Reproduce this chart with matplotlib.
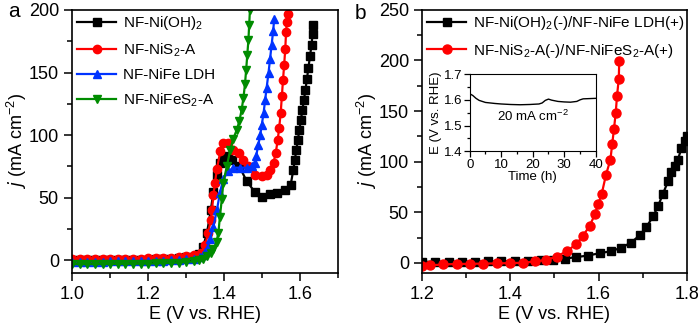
import numpy as np
import matplotlib
matplotlib.use("Agg")
import matplotlib.pyplot as plt
from matplotlib.ticker import MultipleLocator

plt.rcParams['font.family'] = ['Liberation Sans', 'DejaVu Sans']
plt.rcParams['mathtext.default'] = 'regular'

# ---- panel a data (E in V vs RHE, j in mA cm-2) ----
flat_e = [1.00, 1.02, 1.04, 1.06, 1.08, 1.10, 1.12, 1.14, 1.16, 1.18,
          1.20, 1.22, 1.24, 1.26, 1.28, 1.30, 1.32]

ohh_e = flat_e + [1.335, 1.345, 1.355, 1.365, 1.372, 1.38, 1.39, 1.40, 1.41,
                  1.42, 1.44, 1.46, 1.48, 1.50, 1.52, 1.54, 1.56, 1.575,
                  1.582, 1.586, 1.590, 1.594, 1.598, 1.602, 1.606, 1.610,
                  1.614, 1.618, 1.622, 1.626, 1.630, 1.633, 1.635]
ohh_j = [0.0, 0.0, 0.1, 0.1, 0.2, 0.2, 0.3, 0.4, 0.5, 0.6, 0.7, 0.9, 1.1,
         1.4, 1.8, 2.4, 3.0] + [5, 11, 22, 40, 55, 68, 78, 82, 83,
                                80, 75, 63, 55, 51, 53, 54, 56, 60,
                                72, 80, 88, 96, 104, 112, 120, 128,
                                136, 145, 154, 163, 172, 181, 188]

nis_e = flat_e + [1.340, 1.350, 1.358, 1.365, 1.368, 1.372, 1.376, 1.381,
                  1.390, 1.398, 1.411, 1.424, 1.438, 1.451, 1.464, 1.482,
                  1.499, 1.512, 1.521, 1.530, 1.536, 1.541, 1.545, 1.549,
                  1.552, 1.555, 1.558, 1.561, 1.563, 1.565, 1.567]
nis_j = [1.0, 1.0, 1.0, 1.1, 1.1, 1.2, 1.2, 1.3, 1.4, 1.5, 1.6, 1.8, 2.0,
         2.3, 2.7, 3.2, 4.0] + [6, 12, 22, 32, 40, 52, 62, 73,
                                87, 94, 94, 88, 86, 80, 75, 68.5,
                                67, 68.5, 72.5, 78, 86, 96, 106, 118,
                                131, 144, 156, 169, 182, 190, 197]

ldh_e = flat_e + [1.336, 1.344, 1.350, 1.357, 1.363, 1.372, 1.381, 1.389,
                  1.398, 1.411, 1.424, 1.442, 1.460, 1.473, 1.480, 1.484,
                  1.490, 1.495, 1.499, 1.504, 1.508, 1.512, 1.517, 1.521,
                  1.525, 1.529, 1.532]
ldh_j = [-1.0, -1.0, -1.0, -0.9, -0.9, -0.8, -0.8, -0.7, -0.6, -0.5, -0.4,
         -0.3, -0.1, 0.1, 0.4, 0.8, 1.3] + [2.5, 4.5, 7, 11, 17, 27, 40, 54,
                                            65, 71, 74, 74, 74, 75, 78, 83,
                                            92, 100, 108, 118, 128, 138, 150,
                                            161, 172, 183, 193]

fes_e = flat_e + [1.335, 1.345, 1.355, 1.365, 1.372, 1.380, 1.385, 1.389,
                  1.394, 1.398, 1.407, 1.416, 1.424, 1.433, 1.440, 1.446,
                  1.451, 1.455, 1.458, 1.461, 1.464, 1.466, 1.468]
fes_j = [-3.0, -3.0, -3.0, -3.0, -2.9, -2.9, -2.8, -2.8, -2.7, -2.6, -2.5,
         -2.4, -2.2, -2.0, -1.7, -1.3, -0.8] + [0.2, 1.5, 3.5, 6, 9, 15, 22,
                                                35, 49, 62, 75, 88, 97, 104,
                                                111, 120, 130, 141, 152, 164,
                                                176, 188, 200]

# ---- panel b data ----
cell1_e = [1.200, 1.230, 1.260, 1.290, 1.320, 1.350, 1.380, 1.410, 1.440,
           1.470, 1.497, 1.524, 1.550, 1.576, 1.603, 1.629, 1.652, 1.674,
           1.693, 1.708, 1.724, 1.735, 1.746, 1.758, 1.765, 1.774, 1.780,
           1.788, 1.796, 1.800]
cell1_j = [1.0, 1.0, 1.0, 1.1, 1.2, 1.3, 1.5, 1.8, 2.1, 2.6, 3.2, 4.2, 5.6,
           7.2, 9.5, 11.5, 15, 20, 27, 35, 46, 56, 68, 81, 90, 96, 102,
           113, 120, 125]

cell2_e = [1.200, 1.218, 1.248, 1.279, 1.309, 1.339, 1.369, 1.399, 1.429,
           1.456, 1.482, 1.505, 1.528, 1.550, 1.565, 1.580, 1.592, 1.599,
           1.607, 1.617, 1.627, 1.631, 1.635, 1.639, 1.642, 1.646, 1.647]
cell2_j = [-3.0, -2.6, -1.6, -1.2, -1.0, -0.8, -0.6, -0.3, 0.0,
           1.3, 2.9, 6.2, 11.4, 18.6, 26.8, 36.6, 48, 57.8,
           67.6, 87, 102, 117, 132, 148, 165, 182, 199]

# ---- inset: stability at 20 mA cm-2 ----
time_h = [0, 1, 2, 3, 5, 8, 10, 13, 16, 19, 22, 23, 24, 25, 26, 28, 30,
          32, 34, 35, 36, 38, 40]
e_stab = [1.624, 1.617, 1.606, 1.598, 1.590, 1.586, 1.584, 1.582, 1.581,
          1.582, 1.584, 1.588, 1.598, 1.603, 1.599, 1.594, 1.592, 1.591,
          1.594, 1.600, 1.604, 1.605, 1.606]

fig = plt.figure(figsize=(7, 3.3), dpi=100)
ax1 = fig.add_axes([0.103, 0.173, 0.380, 0.797])
ax2 = fig.add_axes([0.603, 0.173, 0.378, 0.797])

lw = 1.6
ax1.plot(ohh_e, ohh_j, '-s', color='black', lw=lw, ms=5.5, label='NF-Ni(OH)$_2$')
ax1.plot(nis_e, nis_j, '-o', color='red', lw=lw, ms=6, label='NF-NiS$_2$-A')
ax1.plot(ldh_e, ldh_j, '-^', color='#0033ff', lw=lw, ms=6, label='NF-NiFe LDH')
ax1.plot(fes_e, fes_j, '-v', color='#008c00', lw=lw, ms=6, label='NF-NiFeS$_2$-A')

ax2.plot(cell1_e, cell1_j, '-s', color='black', lw=lw, ms=5.5,
         label='NF-Ni(OH)$_2$(-)/NF-NiFe LDH(+)')
ax2.plot(cell2_e, cell2_j, '-o', color='red', lw=lw, ms=6.5,
         label='NF-NiS$_2$-A(-)/NF-NiFeS$_2$-A(+)')

ax1.set_xlim(1.0, 1.7)
ax1.set_ylim(-10, 200)
ax1.xaxis.set_major_locator(MultipleLocator(0.2))
ax1.xaxis.set_minor_locator(MultipleLocator(0.1))
ax1.yaxis.set_major_locator(MultipleLocator(50))
ax1.yaxis.set_minor_locator(MultipleLocator(25))

ax2.set_xlim(1.2, 1.8)
ax2.set_ylim(-10, 250)
ax2.xaxis.set_major_locator(MultipleLocator(0.2))
ax2.xaxis.set_minor_locator(MultipleLocator(0.1))
ax2.yaxis.set_major_locator(MultipleLocator(50))
ax2.yaxis.set_minor_locator(MultipleLocator(25))

for ax in (ax1, ax2):
    for s in ax.spines.values():
        s.set_linewidth(1.2)
    ax.tick_params(which='both', direction='out', labelsize=13, width=1.1)
    ax.tick_params(which='major', length=6)
    ax.tick_params(which='minor', length=3.5)
    ax.set_xlabel('E (V vs. RHE)', fontsize=13, labelpad=2)
    ax.set_ylabel(r'$\it{j}$ (mA cm$^{-2}$)', fontsize=13, labelpad=0)
    ax.legend(loc='upper left', frameon=False, fontsize=11, handlelength=2.6,
              handletextpad=0.4, labelspacing=0.6, borderaxespad=0.1,
              borderpad=0.2)

fig.text(0.012, 0.965, 'a', fontsize=15, va='center')
fig.text(0.506, 0.958, 'b', fontsize=15, va='center')

axi = fig.add_axes([0.671, 0.542, 0.180, 0.233])
axi.plot(time_h, e_stab, '-', color='black', lw=1.0)
axi.set_xlim(0, 40)
axi.set_ylim(1.4, 1.7)
axi.xaxis.set_major_locator(MultipleLocator(10))
axi.xaxis.set_minor_locator(MultipleLocator(5))
axi.yaxis.set_major_locator(MultipleLocator(0.1))
axi.yaxis.set_minor_locator(MultipleLocator(0.05))
axi.tick_params(which='both', direction='out', labelsize=9.5, width=0.9, pad=1.5)
axi.tick_params(which='major', length=4)
axi.tick_params(which='minor', length=2)
axi.set_xlabel('Time (h)', fontsize=9.5, labelpad=0)
axi.set_ylabel('E (V vs. RHE)', fontsize=9.5, labelpad=1)
axi.text(20, 1.535, '20 mA cm$^{-2}$', fontsize=9.5, ha='center', va='center')

fig.savefig('out.png', dpi=100)
